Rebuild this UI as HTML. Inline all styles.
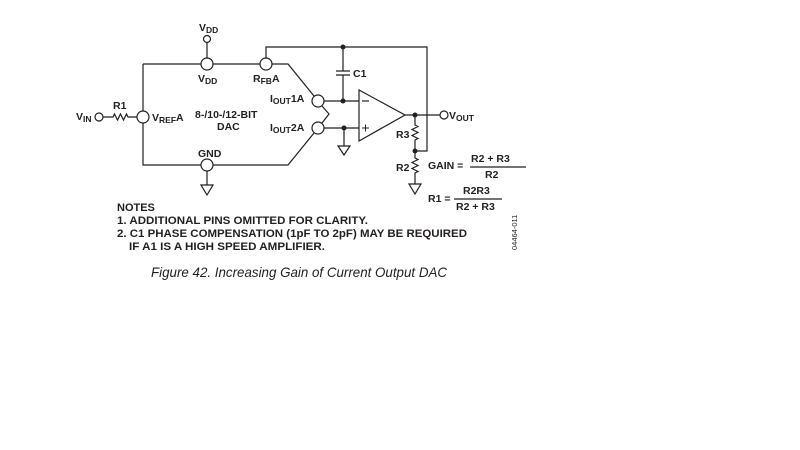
<!DOCTYPE html>
<html><head><style>body{margin:0;background:#fff}svg{display:block}</style></head><body>
<svg width="800" height="450" viewBox="0 0 800 450" xmlns="http://www.w3.org/2000/svg" font-family="Liberation Sans, Arial, sans-serif" font-weight="bold" fill="#231f20">
<g stroke="#231f20" stroke-width="1.2" fill="none">
<path d="M201,64 H149 M143,70 V111 M143,123 V165 H201 M213,165 H288 L314,133"/>
<path d="M213,64 H260 M272,64 H288 L314,96"/>
<path d="M143,64 V70 M143,64 H149"/>
<circle cx="207" cy="39" r="3.5"/>
<path d="M207,43 V58"/>
<circle cx="207" cy="64" r="6" fill="#fff"/>
<circle cx="266" cy="64" r="6" fill="#fff"/>
<circle cx="207" cy="165" r="6" fill="#fff"/>
<circle cx="143" cy="117" r="6" fill="#fff"/>
<circle cx="318" cy="101" r="6" fill="#fff"/>
<circle cx="318" cy="128" r="6" fill="#fff"/>
<path d="M322,106 L329,114 L322,123"/>
<path d="M266,58 V47 H427 V151 H415"/>
<path d="M207,171 V185 M201,185 H213 L207,195 Z"/>
<circle cx="99" cy="117" r="4"/>
<path d="M103,117 H113 l1.5,-3 l3,6 l3,-6 l3,6 l3,-6 l1.5,3 H137"/>
<path d="M343,47 V71 M336,71 H350 M336,75 H350 M343,75 V101"/>
<path d="M324,101 H359 M324,128 H359"/>
<path d="M344,128 V146 M338,146 H350 L344,155 Z"/>
<path d="M359,90 V141 L405,115 Z"/>
<path d="M362,101 H369" />
<path d="M362,128 H369 M365.5,124.5 V131.5" stroke-width="1"/>
<path d="M405,115 H440"/>
<circle cx="444" cy="115" r="4"/>
<path d="M415,115 V125 l3,1.5 l-6,3 l6,3 l-6,3 l6,3 l-3,1.5 V158 l3,1.5 l-6,3 l6,3 l-6,3 l6,3 l-3,1.5 V184 M409,184 H421 L415,194 Z"/>
<path d="M470,167 H526 M454,199 H502"/>
</g>
<g fill="#231f20" stroke="none">
<circle cx="343" cy="47" r="2.5"/><circle cx="343" cy="101" r="2.5"/><circle cx="344" cy="128" r="2.5"/>
<circle cx="415" cy="115" r="2.5"/><circle cx="415" cy="151" r="2.5"/>
</g>
<g font-size="10.5">
<text x="199" y="31">V<tspan font-size="8.5" dy="2">DD</tspan></text>
<text x="198" y="82">V<tspan font-size="8.5" dy="2">DD</tspan></text>
<text x="253" y="82">R<tspan font-size="8.5" dy="2">FB</tspan><tspan dy="-2">A</tspan></text>
<text x="76" y="120">V<tspan font-size="8.5" dy="2">IN</tspan></text>
<text x="113" y="109">R1</text>
<text x="152" y="121">V<tspan font-size="8.5" dy="2">REF</tspan><tspan dy="-2">A</tspan></text>
<text x="195" y="118">8-/10-/12-BIT</text>
<text x="217" y="130">DAC</text>
<text x="270" y="102">I<tspan font-size="8.5" dy="2">OUT</tspan><tspan dy="-2">1A</tspan></text>
<text x="270" y="131">I<tspan font-size="8.5" dy="2">OUT</tspan><tspan dy="-2">2A</tspan></text>
<text x="198" y="157">GND</text>
<text x="353" y="77">C1</text>
<text x="449" y="119">V<tspan font-size="8.5" dy="2">OUT</tspan></text>
<text x="396" y="138">R3</text>
<text x="396" y="171">R2</text>
<text x="428" y="169">GAIN =</text>
<text x="471" y="162">R2 + R3</text>
<text x="485" y="178">R2</text>
<text x="428" y="202">R1 =</text>
<text x="463" y="194">R2R3</text>
<text x="456" y="210">R2 + R3</text>
</g>
<g font-size="11">
<text x="117" y="211">NOTES</text>
<text x="117" y="224" textLength="251" lengthAdjust="spacingAndGlyphs">1. ADDITIONAL PINS OMITTED FOR CLARITY.</text>
<text x="117" y="237" textLength="350" lengthAdjust="spacingAndGlyphs">2. C1 PHASE COMPENSATION (1pF TO 2pF) MAY BE REQUIRED</text>
<text x="129" y="250" textLength="196" lengthAdjust="spacingAndGlyphs">IF A1 IS A HIGH SPEED AMPLIFIER.</text>
</g>
<text x="517" y="250" font-size="7.5" font-weight="normal" transform="rotate(-90 517 250)">04464-011</text>
<text x="151" y="277" font-size="14" font-weight="normal" font-style="italic" textLength="296" lengthAdjust="spacingAndGlyphs" fill="#231f20">Figure 42. Increasing Gain of Current Output DAC</text>
</svg>
</body></html>
